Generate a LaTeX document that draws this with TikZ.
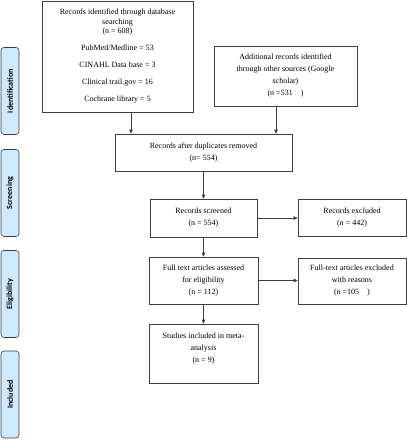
\documentclass[tikz,border=0pt]{standalone}
\usepackage{fontspec}
\setmainfont{Liberation Serif}
\newfontfamily\stagefont{Carlito}
\usetikzlibrary{arrows.meta}
\definecolor{boxline}{HTML}{3F3F3F}
\definecolor{stageblue}{HTML}{CFE9FD}
\begin{document}
\begin{tikzpicture}[x=1pt,y=-1pt,
    box/.style={draw=boxline,line width=0.6pt,align=center,inner sep=1pt,
      font=\fontsize{8}{12}\selectfont},
    stage/.style={draw=boxline,line width=0.6pt,fill=stageblue,rounded corners=3pt,
      rotate=90,minimum width=87pt,minimum height=18pt,inner sep=0pt,
      font=\stagefont\bfseries\fontsize{8}{10}\selectfont},
    arr/.style={draw=boxline,line width=0.6pt,-{Triangle[length=4pt,width=3.5pt]}}]
    \useasboundingbox (0,0) rectangle (407,440);
    % stages on the left
    \node [stage] (sident) at (10,91) {Identification};
    \node [stage] (sscreen) at (10,193) {Screening};
    \node [stage] (selig) at (10,294) {Eligibility};
    \node [stage] (sincl) at (10,394.5) {Included};
    % boxes
    \node [box,minimum width=151pt,minimum height=111pt,font=\fontsize{8}{9.5}\selectfont] (ident) at (117.5,56.3)
        {Records identified through database\\searching\\(n = 608)\\[7.5pt]PubMed/Medline = 53\\[7.5pt]CINAHL Data base = 3\\[7.5pt]Clinical trail.gov = 16\\[7.5pt]Cochrane library = 5};
    \node [box,minimum width=143pt,minimum height=60pt] (other) at (285.5,76)
        {Additional records identified\\through other sources (Google\\scholar)\\(n =531\quad)};
    \node [box,minimum width=177pt,minimum height=37pt] (dupl) at (203.5,152.5)
        {Records after duplicates removed\\(n= 554)};
    \node [box,minimum width=107pt,minimum height=38pt] (screen) at (203.5,218)
        {Records screened\\(n = 554)};
    \node [box,minimum width=108pt,minimum height=37pt] (excl) at (352,217.5)
        {Records excluded\\(n = 442)};
    \node [box,minimum width=109pt,minimum height=47pt] (full) at (203.5,280.5)
        {Full text articles assessed\\for eligibility\\(n = 112)};
    \node [box,minimum width=108pt,minimum height=46pt] (fullexcl) at (352,281)
        {Full-text articles excluded\\with reasons\\(n =105\quad)};
    \node [box,minimum width=109pt,minimum height=59pt] (incl) at (203.5,353.5)
        {Studies included in meta-\\analysis\\(n = 9)\\~};
    % arrows
    \draw [arr] ([xshift=13.5pt]ident.south) -- ([xshift=13.5pt]ident.south |- dupl.north);
    \draw [arr] ([xshift=-9.5pt]other.south) -- ([xshift=-9.5pt]other.south |- dupl.north);
    \draw [arr] (dupl.south) -- (screen.north);
    \draw [arr] (screen.east) -- (screen.east -| excl.west);
    \draw [arr] (screen.south) -- (full.north);
    \draw [arr] (full.east) -- (full.east -| fullexcl.west);
    \draw [arr] (full.south) -- (incl.north);
\end{tikzpicture}
\end{document}
